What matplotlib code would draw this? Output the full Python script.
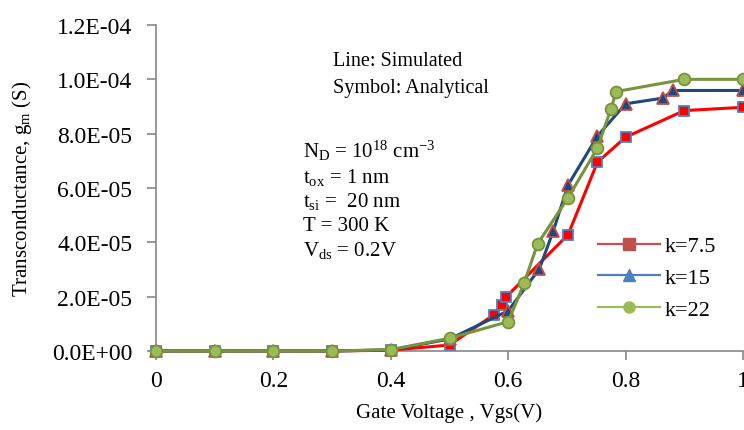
import matplotlib
matplotlib.use('Agg')
import matplotlib.pyplot as plt
from matplotlib.lines import Line2D
from matplotlib.ticker import FormatStrFormatter

plt.rcParams['font.family'] = 'Liberation Serif'
plt.rcParams['mathtext.fontset'] = 'custom'
plt.rcParams['mathtext.rm'] = 'Liberation Serif'
plt.rcParams['mathtext.it'] = 'Liberation Serif:italic'

# gm vs Vgs for the three k values
vgs_k75 = [0, 0.1, 0.2, 0.3, 0.4, 0.5, 0.576, 0.589, 0.596, 0.702, 0.752, 0.80, 0.90, 1.0]
gm_k75 = [0, 0, 0, 0, 3e-7, 2.2e-6, 1.34e-5, 1.7e-5, 1.98e-5, 4.28e-5, 6.95e-5, 7.87e-5, 8.85e-5, 8.97e-5]

vgs_k15 = [0, 0.1, 0.2, 0.3, 0.4, 0.5, 0.60, 0.653, 0.677, 0.702, 0.752, 0.80, 0.864, 0.88, 1.0]
gm_k15 = [0, 0, 0, 0, 4e-7, 4.4e-6, 1.48e-5, 3.02e-5, 4.43e-5, 6.11e-5, 7.91e-5, 9.1e-5, 9.31e-5, 9.59e-5, 9.59e-5]

vgs_k22 = [0, 0.1, 0.2, 0.3, 0.4, 0.5, 0.60, 0.627, 0.65, 0.702, 0.752, 0.775, 0.784, 0.90, 1.0]
gm_k22 = [0, 0, 0, 0, 5e-7, 4.7e-6, 1.08e-5, 2.49e-5, 3.94e-5, 5.64e-5, 7.47e-5, 8.91e-5, 9.55e-5, 1.0e-4, 1.0e-4]

legend_labels = ['k=7.5', 'k=15', 'k=22']

fig = plt.figure(figsize=(7.44, 4.31), dpi=100)
ax = fig.add_axes([156/744, 1-352/431, 587/744, 326/431])

ax.plot(vgs_k75, gm_k75, color='#FF0000', lw=2.2, marker='s', ms=7.5,
        mfc='#FF0000', mec='#4F81BD', mew=1.3, clip_on=False, zorder=3)
ax.plot(vgs_k15, gm_k15, color='#1F497D', lw=2.2, marker='^', ms=8.5,
        mfc='#1F497D', mec='#C0504D', mew=1.3, clip_on=False, zorder=4)
ax.plot(vgs_k22, gm_k22, color='#77933C', lw=2.2, marker='o', ms=8.5,
        mfc='#9BBB59', mec='#77933C', mew=1.3, clip_on=False, zorder=5)

ax.set_xlim(0, 1)
ax.set_ylim(0, 1.2e-4)
ax.set_xticks([0, 0.2, 0.4, 0.6, 0.8, 1.0])
ax.set_xticklabels(['0', '0.2', '0.4', '0.6', '0.8', '1'])
ax.set_yticks([i * 2e-5 for i in range(7)])
ax.yaxis.set_major_formatter(FormatStrFormatter('%.1E'))

for s in ['top', 'right']:
    ax.spines[s].set_visible(False)
for s in ['left', 'bottom']:
    ax.spines[s].set_color('#868686')
    ax.spines[s].set_linewidth(1.2)
ax.tick_params(direction='out', length=6.5, width=1.2, color='#868686',
               labelsize=17, pad=7)
ax.tick_params(axis='y', pad=10.5)

ax.set_xlabel('Gate Voltage , Vgs(V)', fontsize=15, va='center')
ax.set_ylabel('Transconductance, g$_{\\mathrm{m}}$ (S)', fontsize=15, va='center')
ax.xaxis.set_label_coords(0.5, (352-413)/326)
ax.yaxis.set_label_coords((22-156)/587, 0.5)

fig.text(333/744, 1-62/431, 'Line: Simulated', fontsize=14.5, va='center')
fig.text(333/744, 1-88/431, 'Symbol: Analytical', fontsize=14.5, va='center')

params = ['N$_{\\mathrm{D}}$ = 10$^{18}$ cm$^{-3}$',
          't$_{\\mathrm{ox}}$ = 1 nm',
          't$_{\\mathrm{si}}$ =  20 nm',
          'T = 300 K',
          'V$_{\\mathrm{ds}}$ = 0.2V']
for i, p in enumerate(params):
    fig.text(303/744, 1-(158 + 24.5*i)/431, p, fontsize=15, va='baseline')

handles = [
    Line2D([], [], color='#C0504D', lw=1.6, marker='s', ms=8, mfc='#C0504D', mec='#C0504D'),
    Line2D([], [], color='#4F81BD', lw=1.6, marker='^', ms=8, mfc='#4F81BD', mec='#4F81BD'),
    Line2D([], [], color='#9BBB59', lw=1.6, marker='o', ms=8, mfc='#9BBB59', mec='#9BBB59'),
]
fig.legend(handles, legend_labels, loc='upper left',
           bbox_to_anchor=(580/744, 1-219/431), frameon=False, fontsize=16,
           handlelength=2.8, handletextpad=0.2, labelspacing=0.5, borderpad=0.3)

fig.savefig('out.png', dpi=100)
